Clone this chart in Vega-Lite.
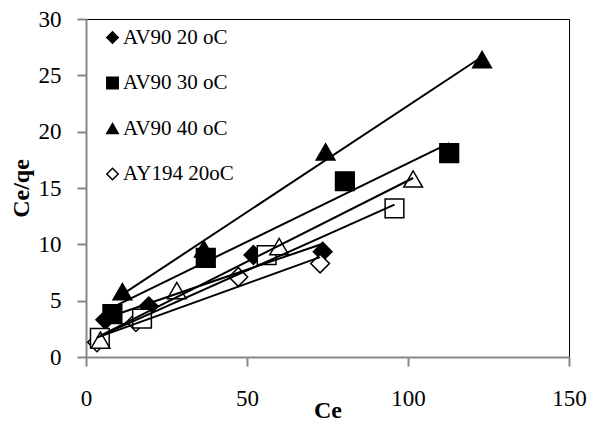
{
  "$schema": "https://vega.github.io/schema/vega-lite/v6.json",
  "width": 483,
  "height": 338,
  "autosize": {"type": "none"},
  "padding": {"left": 86, "top": 19, "right": 26, "bottom": 64},
  "background": "white",
  "config": {
    "view": {"stroke": "#000000", "strokeWidth": 1},
    "font": "Liberation Serif",
    "axis": {
      "grid": false,
      "labelFlush": false,
      "labelOverlap": false,
      "domainColor": "#888888",
      "domainWidth": 2,
      "tickColor": "#888888",
      "tickWidth": 2,
      "tickSize": 9,
      "labelFont": "Liberation Serif",
      "labelFontSize": 23,
      "labelColor": "#000000",
      "titleFont": "Liberation Serif",
      "titleFontSize": 24,
      "titleFontWeight": "bold",
      "titleColor": "#000000"
    }
  },
  "data": {
    "values": [
      {"series": "AV90 20 oC", "Ce": 6.0, "CeQe": 3.3},
      {"series": "AV90 20 oC", "Ce": 19.5, "CeQe": 4.5},
      {"series": "AV90 20 oC", "Ce": 52.0, "CeQe": 9.05},
      {"series": "AV90 20 oC", "Ce": 73.5, "CeQe": 9.35},
      {"series": "AV90 30 oC", "Ce": 8.2, "CeQe": 3.8},
      {"series": "AV90 30 oC", "Ce": 37.2, "CeQe": 8.8},
      {"series": "AV90 30 oC", "Ce": 80.4, "CeQe": 15.6},
      {"series": "AV90 30 oC", "Ce": 112.8, "CeQe": 18.1},
      {"series": "AV90 40 oC", "Ce": 11.3, "CeQe": 5.8},
      {"series": "AV90 40 oC", "Ce": 36.6, "CeQe": 9.6},
      {"series": "AV90 40 oC", "Ce": 74.4, "CeQe": 18.2},
      {"series": "AV90 40 oC", "Ce": 123.0, "CeQe": 26.4},
      {"series": "AY194 20oC", "Ce": 3.4, "CeQe": 1.3},
      {"series": "AY194 20oC", "Ce": 15.5, "CeQe": 3.1},
      {"series": "AY194 20oC", "Ce": 47.3, "CeQe": 7.1},
      {"series": "AY194 20oC", "Ce": 72.7, "CeQe": 8.3},
      {"series": "AY194 30oC", "Ce": 4.3, "CeQe": 1.7},
      {"series": "AY194 30oC", "Ce": 17.4, "CeQe": 3.4},
      {"series": "AY194 30oC", "Ce": 56.1, "CeQe": 9.05},
      {"series": "AY194 30oC", "Ce": 95.8, "CeQe": 13.2},
      {"series": "AY194 40oC", "Ce": 4.5, "CeQe": 1.5},
      {"series": "AY194 40oC", "Ce": 28.2, "CeQe": 5.9},
      {"series": "AY194 40oC", "Ce": 60.0, "CeQe": 9.8},
      {"series": "AY194 40oC", "Ce": 101.6, "CeQe": 15.8}
    ]
  },
  "layer": [
    {
      "mark": {"type": "point", "filled": true, "stroke": "#000000", "strokeWidth": 1.5, "size": 350, "opacity": 1},
      "encoding": {
        "x": {
          "field": "Ce", "type": "quantitative", "title": "Ce",
          "scale": {"domain": [0, 150], "nice": false, "zero": true},
          "axis": {"values": [0, 50, 100, 150], "labelPadding": 21, "titlePadding": -12}
        },
        "y": {
          "field": "CeQe", "type": "quantitative", "title": "Ce/qe",
          "scale": {"domain": [0, 30], "nice": false},
          "axis": {"values": [0, 5, 10, 15, 20, 25, 30], "labelPadding": 16, "titlePadding": 5}
        },
        "shape": {
          "field": "series", "type": "nominal",
          "scale": {
            "domain": ["AV90 20 oC", "AV90 30 oC", "AV90 40 oC", "AY194 20oC", "AY194 30oC", "AY194 40oC"],
            "range": ["diamond", "square", "triangle-up", "diamond", "square", "triangle-up"]
          },
          "legend": {
            "values": ["AV90 20 oC", "AV90 30 oC", "AV90 40 oC", "AY194 20oC"],
            "title": null, "orient": "none", "legendX": 16, "legendY": 8,
            "padding": 0, "rowPadding": 23.5, "symbolSize": 130,
            "labelFont": "Liberation Serif",
            "labelFontSize": 21, "labelColor": "#000000", "labelOffset": 0,
            "encode": {"symbols": {"update": {"stroke": {"value": "#000000"}, "strokeWidth": {"value": 1.5}}}}
          }
        },
        "fill": {
          "field": "series", "type": "nominal",
          "scale": {
            "domain": ["AV90 20 oC", "AV90 30 oC", "AV90 40 oC", "AY194 20oC", "AY194 30oC", "AY194 40oC"],
            "range": ["#000000", "#000000", "#000000", "#ffffff", "#ffffff", "#ffffff"]
          },
          "legend": {
            "values": ["AV90 20 oC", "AV90 30 oC", "AV90 40 oC", "AY194 20oC"],
            "title": null, "orient": "none", "legendX": 16, "legendY": 8,
            "padding": 0, "rowPadding": 23.5, "symbolSize": 130,
            "labelFont": "Liberation Serif",
            "labelFontSize": 21, "labelColor": "#000000", "labelOffset": 0,
            "encode": {"symbols": {"update": {"stroke": {"value": "#000000"}, "strokeWidth": {"value": 1.5}}}}
          }
        }
      }
    },
    {
      "transform": [
        {"regression": "CeQe", "on": "Ce", "groupby": ["series"], "method": "linear"}
      ],
      "mark": {"type": "line", "color": "#000000", "strokeWidth": 2},
      "encoding": {
        "x": {"field": "Ce", "type": "quantitative"},
        "y": {"field": "CeQe", "type": "quantitative"},
        "detail": {"field": "series", "type": "nominal"}
      }
    }
  ]
}
